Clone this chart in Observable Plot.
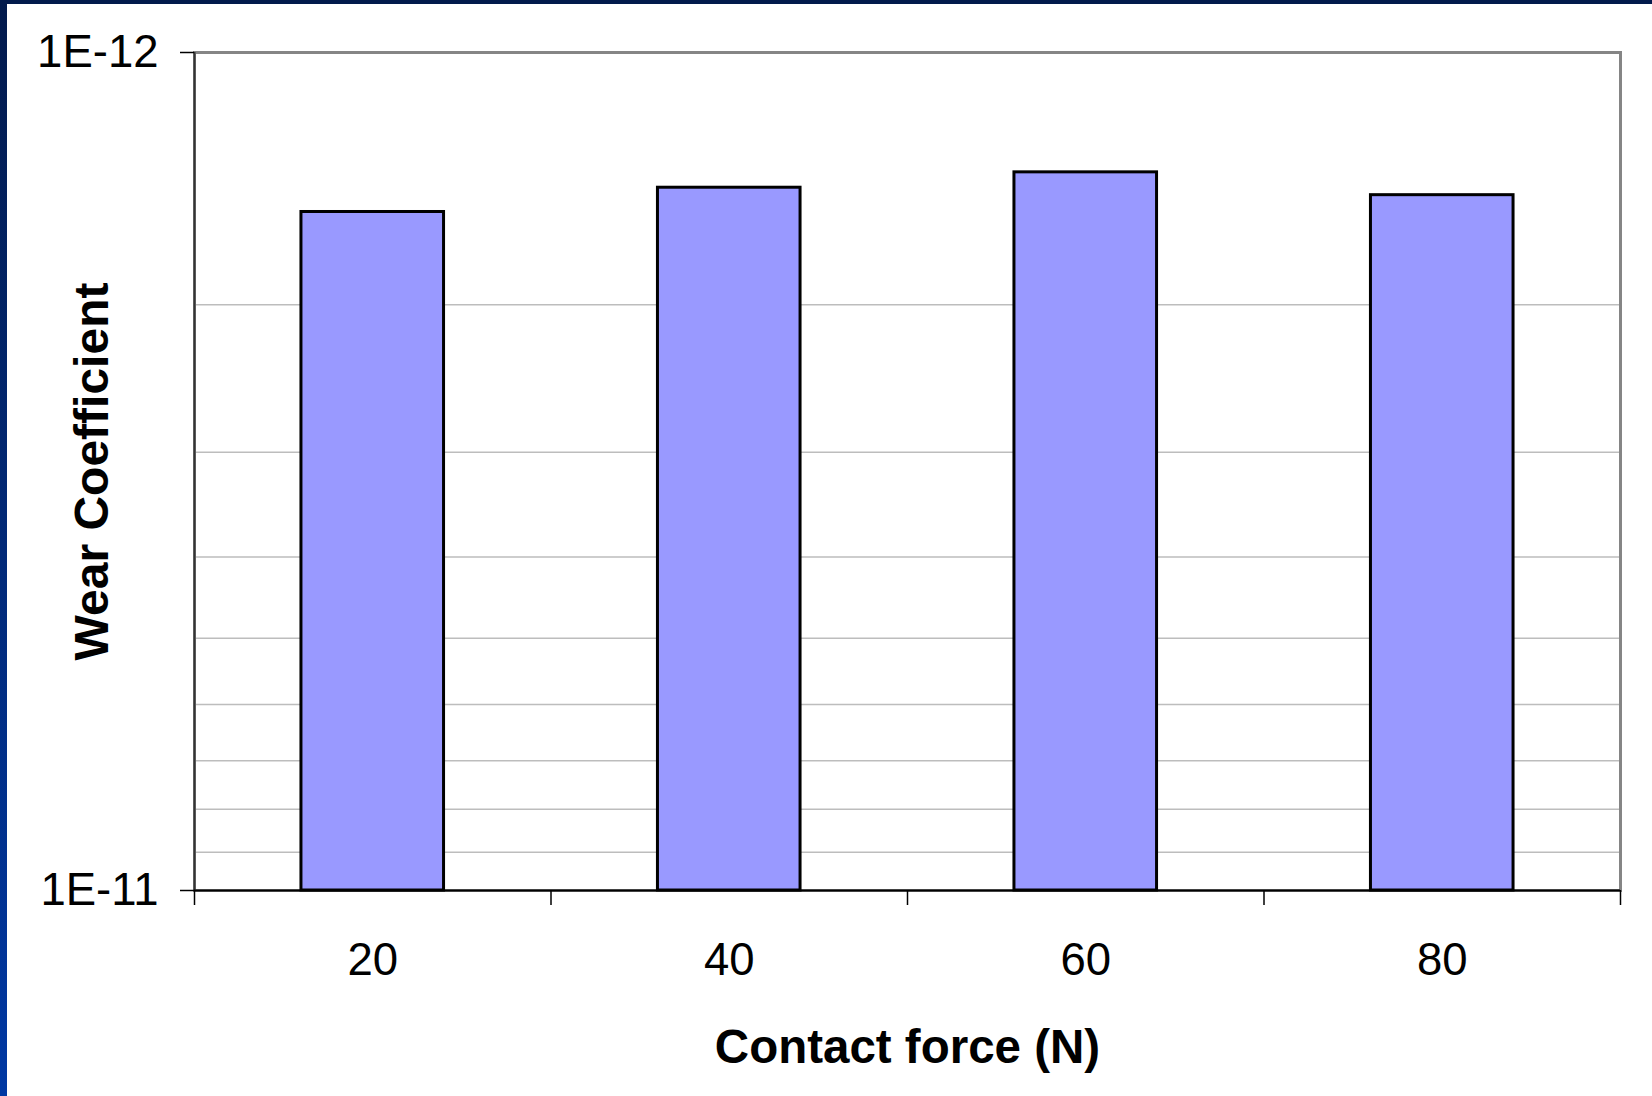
<!DOCTYPE html>
<html>
<head>
<meta charset="utf-8">
<script src="https://cdn.jsdelivr.net/npm/d3@7"></script>
<script src="https://cdn.jsdelivr.net/npm/@observablehq/plot@0.6"></script>
<style>
  html, body { margin: 0; padding: 0; background: #ffffff; overflow: hidden; }
  #wrap { position: relative; width: 1652px; height: 1096px; }
  #topband { position: absolute; left: 0; top: 0; width: 1652px; height: 4px; background: #021a4c; }
  #leftband { position: absolute; left: 0; top: 0; width: 7px; height: 1096px; background: linear-gradient(#021a4c, #0038a3); }
</style>
</head>
<body>
<div id="wrap"><div id="chart"></div><div id="topband"></div><div id="leftband"></div></div>
<script>
const forces = [20, 40, 60, 80];
const wearCoeff = [1.55e-12, 1.45e-12, 1.39e-12, 1.48e-12];
const yDomain = [1e-11, 1e-12];
const yTickValues = [1e-12, 1e-11];
const yTickLabels = ["1E-12", "1E-11"];
const minorGrid = [2e-12, 3e-12, 4e-12, 5e-12, 6e-12, 7e-12, 8e-12, 9e-12];
const xDomain = [10, 90];
const xBoundaries = [10, 30, 50, 70, 90];
const barHalfWidth = 4;
const xTitle = "Contact force (N)";
const yTitle = "Wear Coefficient";

const data = forces.map((f, i) => ({force: f, value: wearCoeff[i], base: yDomain[0]}));
const fontFamily = "'Liberation Sans', Arial, sans-serif";

const chart = Plot.plot({
  width: 1652,
  height: 1096,
  marginLeft: 194,
  marginTop: 52,
  marginRight: 32,
  marginBottom: 206,
  style: {fontFamily, background: "white", color: "black"},
  x: {type: "linear", domain: xDomain},
  y: {type: "log", domain: yDomain},
  marks: [
    Plot.ruleY(minorGrid, {stroke: "#bdbdbd", strokeWidth: 1.5}),
    Plot.frame({stroke: "#858585", strokeWidth: 3}),
    Plot.rect(data, {
      x1: d => d.force - barHalfWidth,
      x2: d => d.force + barHalfWidth,
      y1: "base",
      y2: "value",
      fill: "#9999ff",
      stroke: "black",
      strokeWidth: 3
    }),
    Plot.ruleX([xDomain[0]], {stroke: "#333", strokeWidth: 2}),
    Plot.ruleY([yDomain[0]], {stroke: "black", strokeWidth: 2}),
    Plot.axisY(yTickValues, {
      tickSize: 14, tickPadding: 22, fontSize: 45.5, strokeWidth: 1.5,
      tickFormat: d => yTickLabels[yTickValues.indexOf(d)], label: null
    }),
    Plot.axisX(xBoundaries, {tickSize: 15, strokeWidth: 1.5, tickFormat: () => "", label: null}),
    Plot.axisX(forces, {tickSize: 0, tickPadding: 52, fontSize: 45.5, label: null}),
    Plot.text([xTitle], {frameAnchor: "bottom", textAnchor: "middle", dy: 172, fontSize: 47.5, fontWeight: "bold", fill: "black"}),
    Plot.text([yTitle], {frameAnchor: "left", textAnchor: "middle", dx: -102, rotate: -90, fontSize: 48, fontWeight: "bold", fill: "black"})
  ]
});
document.getElementById("chart").appendChild(chart);
</script>
</body>
</html>
